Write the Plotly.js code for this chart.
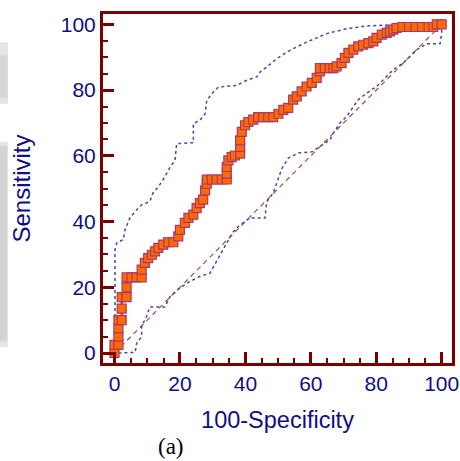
<!DOCTYPE html>
<html>
<head>
<meta charset="utf-8">
<script src="https://cdn.plot.ly/plotly-3.0.1.min.js"></script>
<style>html,body{margin:0;padding:0;background:#fff;}#chart{width:460px;height:461px;}</style>
</head>
<body>
<div id="chart"></div>
<script>
// ROC curve points (100-Specificity, Sensitivity)
var rocX = [0, 0, 1.2, 1.2, 1.2, 1.2, 2.2, 2.2, 2.2, 3.7, 3.7, 3.7, 5.2, 6.7, 8.3, 8.3, 9.3, 10.3, 11.4, 12.4, 13.4, 14.9, 16.4, 18.0, 19.5, 20.0, 21.5, 22.6, 24.1, 25.1, 26.1, 27.1, 27.7, 28.2, 28.2, 29.7, 31.2, 32.8, 34.3, 34.3, 34.3, 34.8, 35.8, 36.8, 38.4, 38.4, 38.4, 38.9, 39.9, 40.9, 42.4, 43.9, 45.4, 47.0, 48.5, 50.1, 51.6, 53.1, 54.6, 55.7, 57.2, 58.7, 60.3, 61.8, 62.8, 62.8, 64.3, 65.8, 66.9, 67.9, 69.4, 70.4, 71.5, 73.0, 74.5, 76.0, 77.6, 79.1, 80.1, 81.7, 83.2, 84.2, 85.2, 86.2, 88.0, 90.0, 92.0, 94.0, 96.0, 97.4, 98.5, 100];
var rocY = [0, 2.5, 2.5, 5, 7.5, 10, 10, 13.5, 17, 17, 20, 23, 23, 23, 23, 25.4, 27.4, 28.9, 29.9, 30.9, 32, 33, 33.7, 33.7, 35.5, 37.5, 39.6, 41.1, 42.1, 44.1, 45.6, 46.7, 49.5, 51.5, 52.8, 52.8, 52.8, 52.8, 52.8, 54.6, 56.6, 58.6, 59.6, 60.1, 60.7, 62.7, 64.7, 67.3, 69.3, 70.3, 71, 71.8, 71.8, 71.8, 71.8, 72.8, 74, 74.6, 77.1, 78.1, 79.6, 81.1, 82.2, 83.7, 85.7, 86.7, 86.7, 86.7, 86.7, 87.2, 88.2, 89.8, 91.3, 92.3, 93.3, 93.8, 94.3, 94.8, 95.9, 96.9, 97.4, 97.9, 98.4, 98.9, 99.2, 99.2, 99.2, 99.2, 99.2, 99.2, 100, 100];

// Upper confidence bound
var upperX = [0.15, 0.15, 0.7, 2.7, 3.2, 4.7, 6.8, 8.3, 10.8, 11.9, 13.4, 15.4, 17, 18.5, 19, 24.1, 24.1, 26.1, 27.7, 28.2, 30.2, 31.7, 37.3, 40.4, 43.5, 44.5, 46.5, 49.6, 53.6, 58.7, 64.9, 71, 77.1, 85.2, 88, 100];
var upperY = [0, 31.4, 33.5, 34.5, 37.5, 41.1, 43.6, 45.1, 46.1, 49, 50.5, 53.6, 56.6, 58.6, 63.7, 64, 69.8, 70.8, 72.8, 76.9, 79.4, 80.9, 81.4, 83, 84, 85.5, 87, 89.6, 92.1, 94.6, 97.2, 98.7, 99.5, 99.8, 100, 100];

// Lower confidence bound
var lowerX = [1.2, 6.3, 6.8, 8.3, 8.3, 9.8, 10.8, 15.4, 17, 20, 23.1, 26.1, 29.2, 31.2, 33, 34.5, 36, 37.8, 41.4, 46, 46.5, 48.5, 50, 51.1, 53.1, 56.2, 60.3, 62.8, 65.9, 66.9, 68.9, 71, 73, 74.5, 77.1, 80.1, 83.2, 85.2, 88.3, 90.3, 92.4, 95.4, 99.5, 100, 100];
var lowerY = [0, 0.2, 3, 5, 8.1, 11.1, 14, 14, 17.2, 19.8, 21.8, 23.3, 24.3, 27.9, 31, 34, 36.5, 38.5, 41.1, 41.1, 46, 48.7, 52.7, 56, 59.3, 60.9, 61.2, 62.9, 64.9, 67, 70, 72, 75, 77.1, 79.1, 81.1, 84.2, 86.2, 88.3, 90.3, 92.3, 94.1, 94.1, 97.2, 100];

// Reference diagonal
var diagX = [0, 100];
var diagY = [0, 100];

var xTickVals = [0, 20, 40, 60, 80, 100];
var yTickVals = [0, 20, 40, 60, 80, 100];

var axisColor = '#7a0000';
var textColor = '#0f0f80';
var blueDash = '#4646aa';

var traces = [
  {x: diagX, y: diagY, mode: 'lines', line: {color: '#a84848', width: 1.2, dash: '5px,4px'}, hoverinfo: 'skip'},
  {x: upperX, y: upperY, mode: 'lines', line: {color: blueDash, width: 1.5, dash: '3px,3px'}, hoverinfo: 'skip'},
  {x: lowerX, y: lowerY, mode: 'lines', line: {color: blueDash, width: 1.5, dash: '3px,3px'}, hoverinfo: 'skip'},
  {x: rocX, y: rocY, mode: 'lines+markers',
   line: {color: '#a8407a', width: 2.5},
   marker: {symbol: 'square', size: 9, color: '#ff6a00', line: {color: '#a8386c', width: 1.2}}}
];

var layout = {
  width: 460, height: 461,
  margin: {l: 103, r: 8, t: 14, b: 98, pad: 0},
  paper_bgcolor: '#ffffff', plot_bgcolor: '#ffffff',
  showlegend: false,
  font: {family: 'Liberation Sans, Arial, sans-serif', color: textColor, size: 21},
  xaxis: {
    range: [-3.51, 103.15], tickvals: xTickVals, ticktext: xTickVals.map(String),
    showgrid: false, zeroline: false,
    showline: true, linecolor: axisColor, linewidth: 3, mirror: true,
    ticks: 'inside', ticklen: 11, tickwidth: 3, tickcolor: axisColor,
    minor: {dtick: 5, tick0: 0, ticks: 'inside', ticklen: 5, tickwidth: 2, tickcolor: axisColor, showgrid: false},
    tickfont: {size: 21, color: textColor},
    title: {text: '100-Specificity', font: {size: 23.5, color: textColor}, standoff: 18},
    automargin: false
  },
  yaxis: {
    range: [-3.04, 103.16], tickvals: yTickVals, ticktext: yTickVals.map(String),
    showgrid: false, zeroline: false,
    showline: true, linecolor: axisColor, linewidth: 3, mirror: true,
    ticks: 'inside', ticklen: 11, tickwidth: 3, tickcolor: axisColor,
    minor: {dtick: 5, tick0: 0, ticks: 'inside', ticklen: 5, tickwidth: 2, tickcolor: axisColor, showgrid: false},
    tickfont: {size: 21, color: textColor},
    title: {text: 'Sensitivity', font: {size: 24, color: textColor}, standoff: 24},
    automargin: false
  },
  shapes: [
    {type: 'rect', xref: 'paper', yref: 'paper', x0: -0.3, x1: -0.272, y0: 0.743, y1: 0.919, fillcolor: '#e4e4e4', line: {width: 0}, layer: 'below'},
    {type: 'rect', xref: 'paper', yref: 'paper', x0: -0.3, x1: -0.274, y0: 0.76, y1: 0.882, fillcolor: '#d6d6d6', line: {width: 0}, layer: 'below'},
    {type: 'rect', xref: 'paper', yref: 'paper', x0: -0.3, x1: -0.272, y0: 0.045, y1: 0.634, fillcolor: '#e6e6e6', line: {width: 0}, layer: 'below'},
    {type: 'rect', xref: 'paper', yref: 'paper', x0: -0.3, x1: -0.275, y0: 0.062, y1: 0.622, fillcolor: '#d4d4d4', line: {width: 0}, layer: 'below'}
  ],
  annotations: [
    {text: '(a)', xref: 'paper', yref: 'paper', x: 0.195, y: -0.24, xanchor: 'center', yanchor: 'middle', showarrow: false,
     font: {family: 'Liberation Serif, Times New Roman, serif', size: 23, color: '#000000'}}
  ]
};

Plotly.newPlot('chart', traces, layout, {staticPlot: true, displayModeBar: false});
</script>
</body>
</html>
